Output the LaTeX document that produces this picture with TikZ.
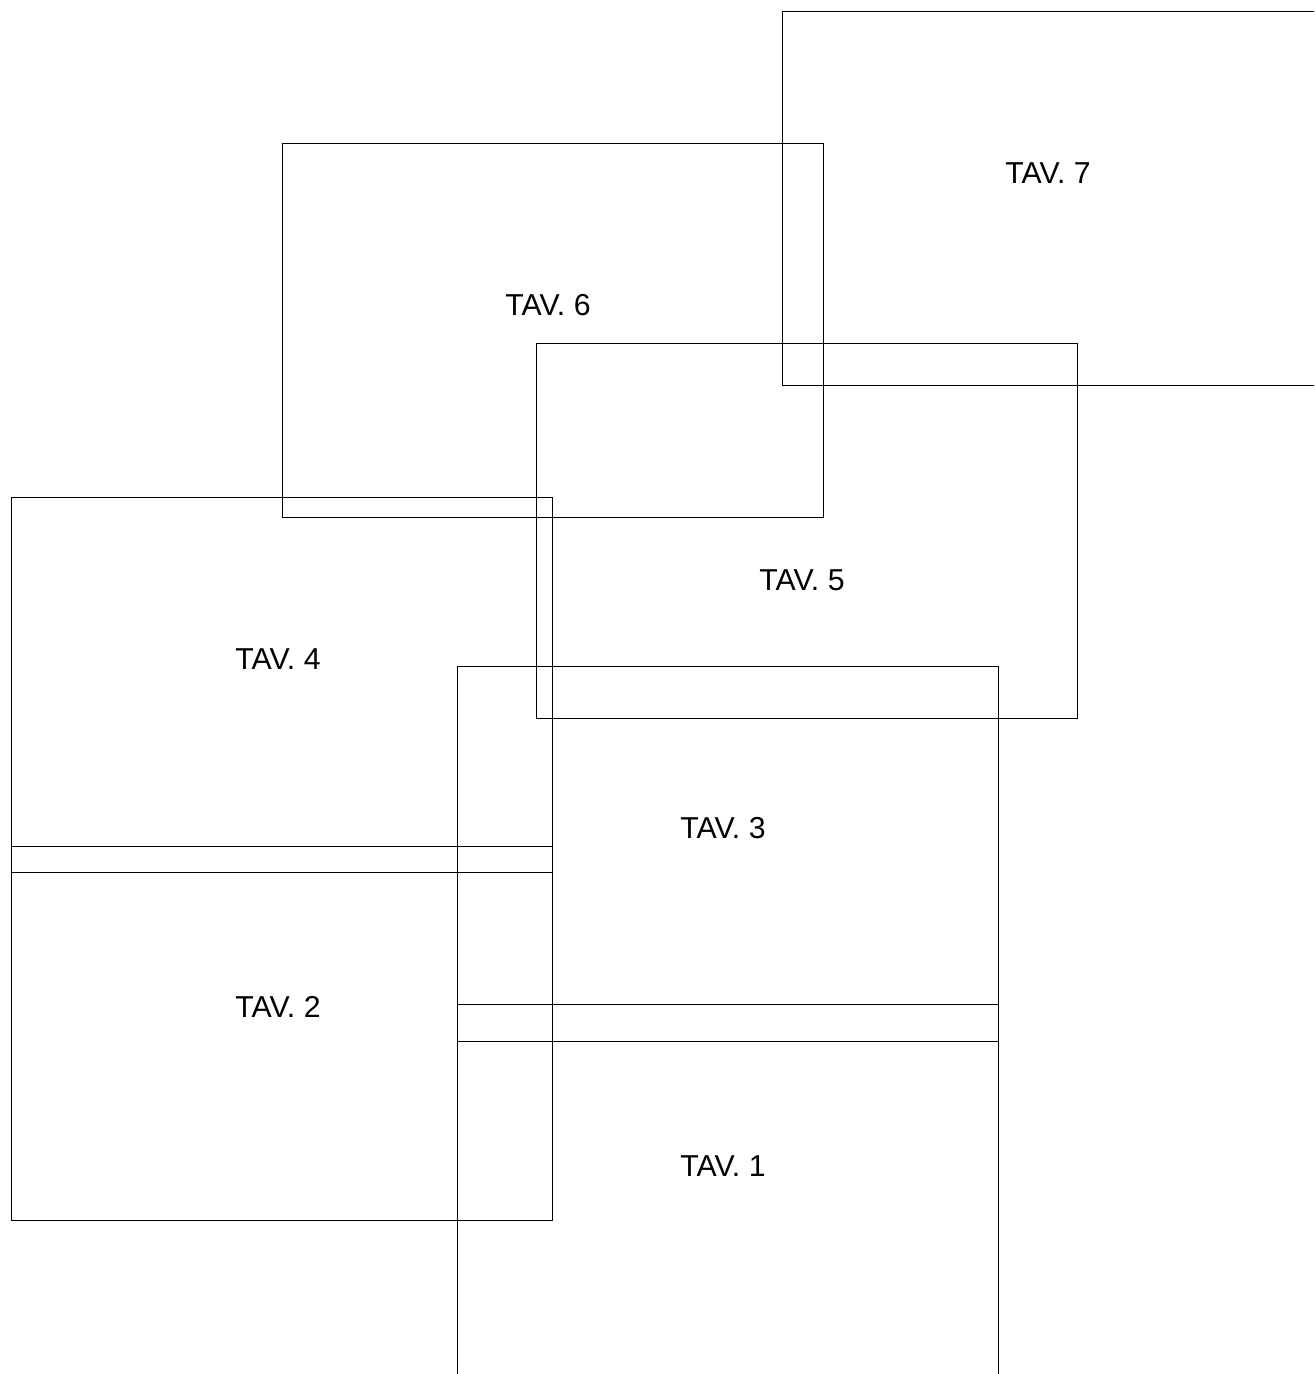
\documentclass[tikz,border=0pt]{standalone}
\usepackage{fontspec}
\setmainfont{Liberation Sans}
\usetikzlibrary{positioning}

\tikzset{sheet/.style={draw, line width=0.25pt}}

\begin{document}
\begin{tikzpicture}[x=0.01cm, y=-0.01cm, font=\fontsize{8.6}{10}\selectfont]
\useasboundingbox (0,0) rectangle (1314,1374);
\clip (0,0) rectangle (1314,1374);
% sheets
\draw[sheet] (782,11)  rectangle (1323,385);
\draw[sheet] (282,143) rectangle (823,517);
\draw[sheet] (536,343) rectangle (1077,718);
\draw[sheet] (11,497)  rectangle (552,872);
\draw[sheet] (11,846)  rectangle (552,1220);
\draw[sheet] (457,666) rectangle (998,1041);
\draw[sheet] (457,1004) rectangle (998,1400);
% labels
\node (tav7) at (1048,173) {TAV. 7};
\node (tav6) at (548,305)  {TAV. 6};
\node (tav5) at (802,580)  {TAV. 5};
\node (tav4) at (278,659)  {TAV. 4};
\node (tav3) at (723,828)  {TAV. 3};
\node (tav2) at (278,1007) {TAV. 2};
\node (tav1) at (723,1166) {TAV. 1};
\end{tikzpicture}
\end{document}
